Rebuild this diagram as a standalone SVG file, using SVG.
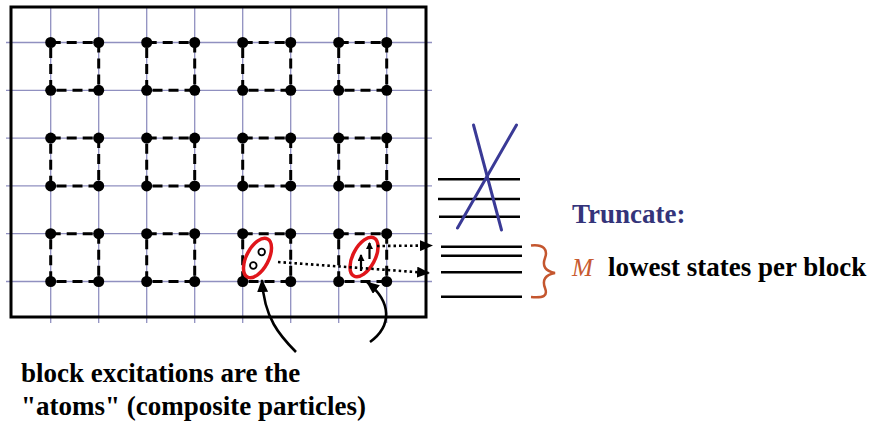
<svg xmlns="http://www.w3.org/2000/svg" width="875" height="421" viewBox="0 0 875 421">
<style>
.grid{stroke:#9090c0;stroke-width:1.3;fill:none}
.sq{fill:none;stroke:#000;stroke-width:3;stroke-dasharray:10,6}
.dot{fill:#000}
.lvl{stroke:#000;stroke-width:2.6}
.cross{stroke:#3a3a96;stroke-width:3;stroke-linecap:round}
.dotted{fill:none;stroke:#000;stroke-width:2.6;stroke-dasharray:2.5,3}
.curve{fill:none;stroke:#000;stroke-width:2.6}
.ell{fill:#fff;stroke:#e0161b;stroke-width:3.5}
.txt{font-family:"Liberation Serif","Times New Roman",serif;font-weight:bold;font-size:27px;fill:#000}
</style>
<defs>
<marker id="ah" markerWidth="13" markerHeight="11" refX="12" refY="5.5" orient="auto" markerUnits="userSpaceOnUse"><path d="M0,0 L13,5.5 L0,11 Z" fill="#000"/></marker>
<marker id="ahs" markerWidth="7" markerHeight="7" refX="6" refY="3.5" orient="auto" markerUnits="userSpaceOnUse"><path d="M0,0 L7,3.5 L0,7 Z" fill="#000"/></marker>
</defs>
<rect width="875" height="421" fill="#fff"/>
<g id="grid">
<line class="grid" x1="50.7" y1="7" x2="50.7" y2="323"/>
<line class="grid" x1="98.7" y1="7" x2="98.7" y2="323"/>
<line class="grid" x1="146.7" y1="7" x2="146.7" y2="323"/>
<line class="grid" x1="194.7" y1="7" x2="194.7" y2="323"/>
<line class="grid" x1="242.7" y1="7" x2="242.7" y2="323"/>
<line class="grid" x1="290.7" y1="7" x2="290.7" y2="323"/>
<line class="grid" x1="338.7" y1="7" x2="338.7" y2="323"/>
<line class="grid" x1="386.7" y1="7" x2="386.7" y2="323"/>
<line class="grid" x1="6" y1="42.5" x2="432" y2="42.5"/>
<line class="grid" x1="6" y1="90.3" x2="432" y2="90.3"/>
<line class="grid" x1="6" y1="138.1" x2="432" y2="138.1"/>
<line class="grid" x1="6" y1="185.9" x2="432" y2="185.9"/>
<line class="grid" x1="6" y1="233.7" x2="432" y2="233.7"/>
<line class="grid" x1="6" y1="281.5" x2="432" y2="281.5"/>
<rect x="11" y="7" width="415" height="310" fill="none" stroke="#000" stroke-width="3"/>
</g>
<g id="block-1-1"><rect class="sq" x="50.7" y="42.5" width="48" height="47.8"/><circle class="dot" cx="50.7" cy="42.5" r="5.5"/><circle class="dot" cx="98.7" cy="42.5" r="5.5"/><circle class="dot" cx="50.7" cy="90.3" r="5.5"/><circle class="dot" cx="98.7" cy="90.3" r="5.5"/></g>
<g id="block-1-2"><rect class="sq" x="146.7" y="42.5" width="48" height="47.8"/><circle class="dot" cx="146.7" cy="42.5" r="5.5"/><circle class="dot" cx="194.7" cy="42.5" r="5.5"/><circle class="dot" cx="146.7" cy="90.3" r="5.5"/><circle class="dot" cx="194.7" cy="90.3" r="5.5"/></g>
<g id="block-1-3"><rect class="sq" x="242.7" y="42.5" width="48" height="47.8"/><circle class="dot" cx="242.7" cy="42.5" r="5.5"/><circle class="dot" cx="290.7" cy="42.5" r="5.5"/><circle class="dot" cx="242.7" cy="90.3" r="5.5"/><circle class="dot" cx="290.7" cy="90.3" r="5.5"/></g>
<g id="block-1-4"><rect class="sq" x="338.7" y="42.5" width="48" height="47.8"/><circle class="dot" cx="338.7" cy="42.5" r="5.5"/><circle class="dot" cx="386.7" cy="42.5" r="5.5"/><circle class="dot" cx="338.7" cy="90.3" r="5.5"/><circle class="dot" cx="386.7" cy="90.3" r="5.5"/></g>
<g id="block-2-1"><rect class="sq" x="50.7" y="138.1" width="48" height="47.8"/><circle class="dot" cx="50.7" cy="138.1" r="5.5"/><circle class="dot" cx="98.7" cy="138.1" r="5.5"/><circle class="dot" cx="50.7" cy="185.9" r="5.5"/><circle class="dot" cx="98.7" cy="185.9" r="5.5"/></g>
<g id="block-2-2"><rect class="sq" x="146.7" y="138.1" width="48" height="47.8"/><circle class="dot" cx="146.7" cy="138.1" r="5.5"/><circle class="dot" cx="194.7" cy="138.1" r="5.5"/><circle class="dot" cx="146.7" cy="185.9" r="5.5"/><circle class="dot" cx="194.7" cy="185.9" r="5.5"/></g>
<g id="block-2-3"><rect class="sq" x="242.7" y="138.1" width="48" height="47.8"/><circle class="dot" cx="242.7" cy="138.1" r="5.5"/><circle class="dot" cx="290.7" cy="138.1" r="5.5"/><circle class="dot" cx="242.7" cy="185.9" r="5.5"/><circle class="dot" cx="290.7" cy="185.9" r="5.5"/></g>
<g id="block-2-4"><rect class="sq" x="338.7" y="138.1" width="48" height="47.8"/><circle class="dot" cx="338.7" cy="138.1" r="5.5"/><circle class="dot" cx="386.7" cy="138.1" r="5.5"/><circle class="dot" cx="338.7" cy="185.9" r="5.5"/><circle class="dot" cx="386.7" cy="185.9" r="5.5"/></g>
<g id="block-3-1"><rect class="sq" x="50.7" y="233.7" width="48" height="47.8"/><circle class="dot" cx="50.7" cy="233.7" r="5.5"/><circle class="dot" cx="98.7" cy="233.7" r="5.5"/><circle class="dot" cx="50.7" cy="281.5" r="5.5"/><circle class="dot" cx="98.7" cy="281.5" r="5.5"/></g>
<g id="block-3-2"><rect class="sq" x="146.7" y="233.7" width="48" height="47.8"/><circle class="dot" cx="146.7" cy="233.7" r="5.5"/><circle class="dot" cx="194.7" cy="233.7" r="5.5"/><circle class="dot" cx="146.7" cy="281.5" r="5.5"/><circle class="dot" cx="194.7" cy="281.5" r="5.5"/></g>
<g id="block-3-3"><rect class="sq" x="242.7" y="233.7" width="48" height="47.8"/><circle class="dot" cx="242.7" cy="233.7" r="5.5"/><circle class="dot" cx="290.7" cy="233.7" r="5.5"/><circle class="dot" cx="242.7" cy="281.5" r="5.5"/><circle class="dot" cx="290.7" cy="281.5" r="5.5"/></g>
<g id="block-3-4"><rect class="sq" x="338.7" y="233.7" width="48" height="47.8"/><circle class="dot" cx="338.7" cy="233.7" r="5.5"/><circle class="dot" cx="386.7" cy="233.7" r="5.5"/><circle class="dot" cx="338.7" cy="281.5" r="5.5"/><circle class="dot" cx="386.7" cy="281.5" r="5.5"/></g>
<g id="excitation-1">
<ellipse class="ell" cx="257.5" cy="258" rx="11" ry="21.5" transform="rotate(28 257.5 258)"/>
<circle cx="261.7" cy="252" r="3.3" fill="#fff" stroke="#000" stroke-width="1.8"/>
<circle cx="253.3" cy="265.5" r="3.3" fill="#fff" stroke="#000" stroke-width="1.8"/>
</g>
<g id="excitation-2">
<ellipse class="ell" cx="364" cy="257" rx="11" ry="21.5" transform="rotate(28 364 257)"/>
<line x1="369.5" y1="259" x2="369.5" y2="243" stroke="#000" stroke-width="2.2" marker-end="url(#ahs)"/>
<line x1="361" y1="271" x2="361" y2="255" stroke="#000" stroke-width="2.2" marker-end="url(#ahs)"/>
</g>
<g id="levels">
<line class="lvl" x1="438" y1="179.3" x2="520" y2="179.3"/>
<line class="lvl" x1="438" y1="199" x2="520" y2="199"/>
<line class="lvl" x1="439" y1="216.7" x2="520" y2="216.7"/>
<line class="cross" x1="473.5" y1="125" x2="501.5" y2="230"/>
<line class="cross" x1="516.5" y1="125" x2="457.5" y2="228"/>
<line class="lvl" x1="441" y1="246.7" x2="522" y2="246.7"/>
<line class="lvl" x1="441" y1="255.7" x2="522" y2="255.7"/>
<line class="lvl" x1="441" y1="272.3" x2="522" y2="272.3"/>
<line class="lvl" x1="441" y1="296.7" x2="522" y2="296.7"/>
<path d="M531,245.5 C544,244 548,250 545,258 C542,266 545,271 555,273 C545,275 542,280 545,288 C548,296 544,298 531,297" fill="none" stroke="#c4562e" stroke-width="2.5"/>
</g>
<g id="connectors">
<path class="dotted" d="M278,262 L429,273" marker-end="url(#ah)"/>
<path class="dotted" d="M377,246 L432,245.5" marker-end="url(#ah)"/>
<path class="curve" d="M296,352 C280,336 264,318 262,280" marker-end="url(#ah)"/>
<path class="curve" d="M370,342 C392,326 392,302 367,282" marker-end="url(#ah)"/>
</g>
<g id="labels">
<text class="txt" x="572" y="223" style="fill:#34347a">Truncate:</text>
<text x="572" y="276" font-family="Liberation Serif, Times New Roman, serif" font-style="italic" font-size="25" fill="#c85a30">M</text>
<text class="txt" x="608" y="276">lowest states per block</text>
<text class="txt" x="21" y="382">block excitations are the</text>
<text class="txt" x="21" y="415">"atoms" (composite particles)</text>
</g>
</svg>
